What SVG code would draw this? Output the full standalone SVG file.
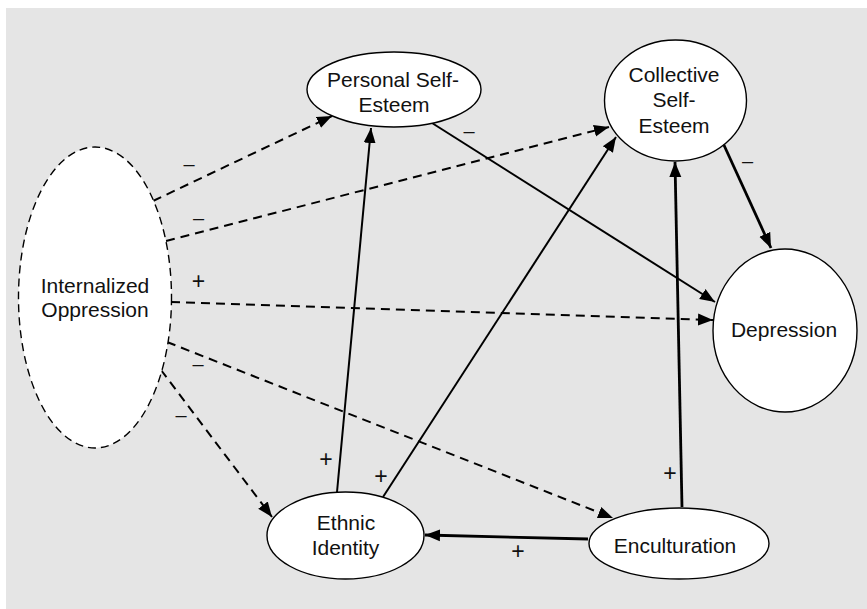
<svg xmlns="http://www.w3.org/2000/svg" width="867" height="609" viewBox="0 0 867 609">
<defs>
<style>
.bg{fill:#e5e5e5}
.node{fill:#fff;stroke:#000;stroke-width:1.4}
.dnode{fill:#fff;stroke:#000;stroke-width:1.4;stroke-dasharray:8,5}
text{font-family:"Liberation Sans",Arial,sans-serif;font-size:21px;fill:#111;text-anchor:middle}
.lbl{font-size:20px}
.pl{font-size:23px}
.e{fill:none;stroke:#000;stroke-width:2}
.d{stroke-dasharray:9,6}
.t{stroke-width:2.8}
</style>
<marker id="ah" markerUnits="userSpaceOnUse" markerWidth="16" markerHeight="14" refX="15" refY="6" orient="auto" viewBox="0 0 16 12">
<path d="M0,0 L15,6 L0,12 Z" fill="#000"/>
</marker>
</defs>
<rect class="bg" x="6" y="8" width="861" height="601"/>

<g id="connectors">
<line class="e d" x1="153" y1="201" x2="332" y2="116" marker-end="url(#ah)"/>
<line class="e d" x1="166" y1="241" x2="609" y2="127" marker-end="url(#ah)"/>
<line class="e d" x1="171" y1="302" x2="713" y2="320" marker-end="url(#ah)"/>
<line class="e d" x1="167" y1="342" x2="613" y2="518" marker-end="url(#ah)"/>
<line class="e d" x1="161" y1="370" x2="272" y2="517" marker-end="url(#ah)"/>
<line class="e" x1="337" y1="492" x2="371" y2="128" marker-end="url(#ah)"/>
<line class="e" x1="383" y1="497" x2="616" y2="137" marker-end="url(#ah)"/>
<line class="e t" x1="682" y1="507" x2="675" y2="162" marker-end="url(#ah)"/>
<line class="e t" x1="588" y1="539" x2="425" y2="535" marker-end="url(#ah)"/>
<line class="e" x1="432" y1="123" x2="715" y2="302" marker-end="url(#ah)"/>
<line class="e t" x1="723" y1="143" x2="771" y2="248" marker-end="url(#ah)"/>
<text class="lbl" x="189" y="171">–</text>
<text class="lbl" x="198.5" y="225">–</text>
<text class="lbl pl" x="198.5" y="289">+</text>
<text class="lbl" x="198" y="371">–</text>
<text class="lbl" x="181" y="422">–</text>
<text class="lbl pl" x="326" y="467">+</text>
<text class="lbl pl" x="381" y="484">+</text>
<text class="lbl pl" x="670" y="481">+</text>
<text class="lbl pl" x="518" y="559">+</text>
<text class="lbl" x="469" y="138">–</text>
<text class="lbl" x="747.5" y="168">–</text>
</g>

<g id="internalized-oppression">
<ellipse class="dnode" cx="95" cy="297.5" rx="76.5" ry="150.5"/>
<text x="95" y="293">Internalized</text>
<text x="95" y="317">Oppression</text>
</g>
<g id="personal-self-esteem">
<ellipse class="node" cx="394" cy="89.5" rx="87" ry="37.5"/>
<text x="393" y="87">Personal Self-</text>
<text x="394" y="112">Esteem</text>
</g>
<g id="collective-self-esteem">
<ellipse class="node" cx="675.5" cy="100.5" rx="71" ry="60.5"/>
<text x="674" y="82">Collective</text>
<text x="674" y="107">Self-</text>
<text x="674" y="133">Esteem</text>
</g>
<g id="depression">
<ellipse class="node" cx="785" cy="330.5" rx="72" ry="81.5"/>
<text x="784" y="337">Depression</text>
</g>
<g id="ethnic-identity">
<ellipse class="node" cx="345.5" cy="535.5" rx="78.5" ry="43.5"/>
<text x="346" y="530">Ethnic</text>
<text x="345.5" y="555">Identity</text>
</g>
<g id="enculturation">
<ellipse class="node" cx="679" cy="543.5" rx="90" ry="35.5"/>
<text x="675" y="553">Enculturation</text>
</g>
</svg>
